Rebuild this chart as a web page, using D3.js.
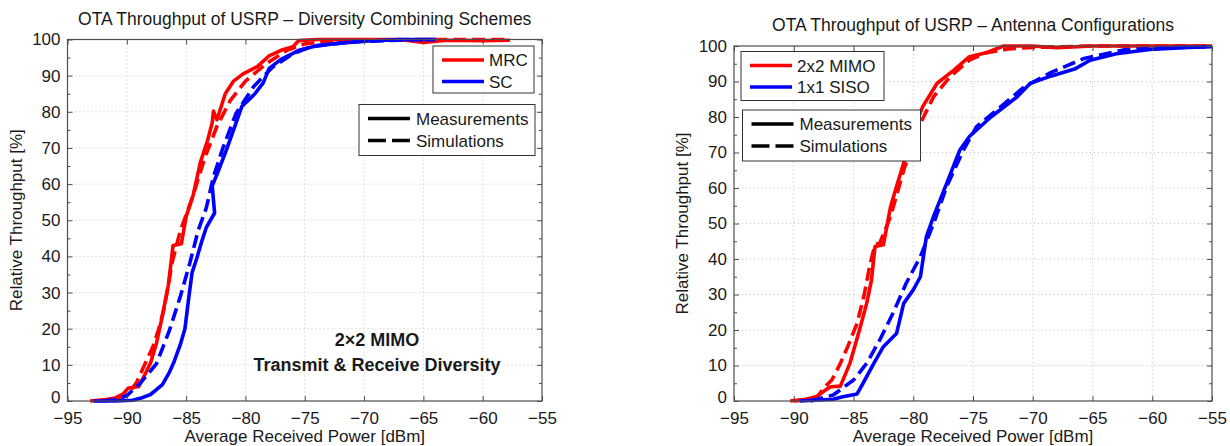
<!DOCTYPE html>
<html>
<head>
<meta charset="utf-8">
<script src="https://cdn.jsdelivr.net/npm/d3@7"></script>
<style>
  body { margin: 0; background: #fff; }
  svg text { font-family: "Liberation Sans", Arial, sans-serif; fill: #1a1a1a; }
</style>
</head>
<body>
<script>

// axis ticks shared by both plots
var xTicks = [-95, -90, -85, -80, -75, -70, -65, -60, -55]
var yTicks = [0, 10, 20, 30, 40, 50, 60, 70, 80, 90, 100]
var yMinorTicks = [5, 15, 25, 35, 45, 55, 65, 75, 85, 95]

// left plot: diversity combining schemes
var mrcMeas = [[-93.1,0],[-92,0.3],[-91,0.8],[-90.3,2],[-89.9,3.5],[-89,4],[-88.6,6.5],[-88,10.5],[-87.5,16],[-87.1,22],[-86.5,32],[-86.1,43],[-85.4,43.5],[-85,51],[-84.4,57],[-83.8,66],[-83.2,72],[-82.8,77],[-82.7,80.2],[-82.4,77.8],[-81.7,85],[-81,88.5],[-80.2,90.5],[-79,92.5],[-78,95.5],[-77,97],[-76,98],[-75.5,99.7],[-74,100],[-70,100],[-67,100],[-65,99.2],[-63,99.8],[-60,99.7],[-57.7,99.8]]
var mrcSim = [[-92.5,0],[-91,0.5],[-90,1.5],[-89.2,5],[-88.5,10],[-87.8,15],[-87.3,20],[-86.9,25],[-86.5,32],[-86.2,38],[-85.5,47],[-84.5,56],[-83.4,67.5],[-82.4,76],[-81.3,83],[-80,88.5],[-78.2,93.4],[-76.5,97],[-75,98.8],[-73,99.5],[-70,99.8],[-65,100],[-60,100],[-58,100]]
var scMeas = [[-92.8,0],[-91,0],[-89.5,0.2],[-88.8,0.8],[-88,1.8],[-87,4.5],[-86.4,8],[-86,11],[-85.5,15.5],[-85.1,20],[-84.8,28],[-84.5,35.5],[-84.1,39.5],[-83.7,44],[-83.3,48],[-82.6,52],[-82.8,59.5],[-82.3,63.5],[-81.6,69.5],[-81,75],[-80.3,81.5],[-79.2,85],[-78.5,88],[-78,92],[-77,94.5],[-75.5,97],[-74,98.3],[-72,99],[-70,99.5],[-67,100],[-64,100]]
var scSim = [[-92,0],[-90.9,0.4],[-90,1.5],[-88.9,4.8],[-87.5,10.3],[-86.4,19.6],[-85.5,28.8],[-84.7,38],[-84,47],[-83.3,53.4],[-82.7,62],[-81.9,70],[-80.8,79.5],[-79.3,87],[-77.7,92.4],[-76,96],[-74.5,98],[-72,99],[-70,99.5],[-67,99.8],[-64,100]]

// right plot: antenna configurations
var mimoMeas = [[-90.3,0],[-89,0.5],[-88.1,1.2],[-87.3,3.2],[-86.9,4],[-86.1,4.2],[-85.3,10.6],[-84.5,20],[-83.9,27.5],[-83.5,34],[-83.2,43.5],[-82.5,44],[-81.9,54.7],[-81.4,60.4],[-80.8,67],[-80,76],[-79.2,83],[-78,89.5],[-76.6,93.2],[-75.3,97],[-74,98],[-72.8,99.5],[-72.5,100],[-70,100],[-68,99.5],[-65,100],[-60,100],[-55,100]]
var mimoSim = [[-90,0],[-89,0.3],[-88,1.3],[-87.5,3.6],[-86.8,6],[-86.1,10.6],[-85.4,16],[-84.7,21.9],[-84.1,30],[-83.6,38.8],[-83.2,44],[-82.8,44.5],[-81.9,52],[-80.8,65],[-80.1,72],[-79.4,78.2],[-78.3,85.7],[-76.9,91.4],[-75.3,96],[-74,98],[-72,99.2],[-70,99.6],[-65,100],[-55,100]]
var sisoMeas = [[-89.5,0],[-86.7,0.5],[-85.9,1.2],[-84.7,2],[-84.2,5],[-83.3,10.6],[-82.5,15.3],[-81.4,19],[-80.8,27.5],[-80,31.3],[-79.4,35],[-78.9,46.3],[-78.3,52],[-77.2,61.3],[-76.1,70.7],[-75.3,74.5],[-73.5,80],[-71.3,85.7],[-70.2,89.5],[-68.5,91.5],[-66.5,93.5],[-65.2,96],[-63,97.8],[-60.2,99],[-57,99.6],[-55,99.8]]
var sisoSim = [[-88.6,0],[-86.7,1.7],[-85,5.9],[-83.9,10.6],[-82.8,17.2],[-81.7,24.7],[-80.6,33.1],[-79.4,40.7],[-78.3,50],[-77.2,60.4],[-75.8,70.7],[-74.7,77.3],[-73,82],[-70.7,88.5],[-68.5,92.5],[-65.7,96.5],[-62.4,98.9],[-58,99.6],[-55,99.8]]

var RED = "#ff0000"
var BLUE = "#0000ff"
var DASH = "13,6"

window.onload = drawAll

function drawAll()
{
  svg = d3.select("body").append("svg")
          .attr("width", 1230)
          .attr("height", 446)

  drawPanel({
    left: 67.5, right: 542, top: 39.5, bottom: 401,
    title: "OTA Throughput of USRP \u2013 Diversity Combining Schemes",
    titleY: 25,
    ylabelX: 22,
    series: [
      {data: mrcMeas, color: RED, dash: null},
      {data: mrcSim, color: RED, dash: DASH},
      {data: scMeas, color: BLUE, dash: null},
      {data: scSim, color: BLUE, dash: DASH}
    ],
    colorLegend: {x: 433, y: 46, w: 101, h: 47, names: ["MRC", "SC"]},
    styleLegend: {x: 359, y: 104.5, w: 176, h: 51},
    note: true
  })

  drawPanel({
    left: 734, right: 1212, top: 46, bottom: 401,
    title: "OTA Throughput of USRP \u2013 Antenna Configurations",
    titleY: 31,
    ylabelX: 688,
    series: [
      {data: mimoMeas, color: RED, dash: null},
      {data: mimoSim, color: RED, dash: DASH},
      {data: sisoMeas, color: BLUE, dash: null},
      {data: sisoSim, color: BLUE, dash: DASH}
    ],
    colorLegend: {x: 741, y: 51.5, w: 143, h: 49, names: ["2x2 MIMO", "1x1 SISO"]},
    styleLegend: {x: 742.5, y: 110, w: 178, h: 51},
    note: false
  })
}

// one matlab style plot
function drawPanel(p)
{
  var x = d3.scaleLinear().domain([-95, -55]).range([p.left, p.right])
  var y = d3.scaleLinear().domain([0, 100]).range([p.bottom, p.top])
  var g = svg.append("g")

  // dotted grid
  g.selectAll(".gx").data(xTicks.slice(1, -1)).enter().append("line")
   .attr("x1", d => x(d)).attr("x2", d => x(d))
   .attr("y1", p.top).attr("y2", p.bottom)
   .attr("stroke", "#c4c4c4").attr("stroke-dasharray", "1,3")
  g.selectAll(".gy").data(yTicks.slice(1, -1)).enter().append("line")
   .attr("x1", p.left).attr("x2", p.right)
   .attr("y1", d => y(d)).attr("y2", d => y(d))
   .attr("stroke", "#c4c4c4").attr("stroke-dasharray", "1,3")

  // curves
  var line = d3.line().x(d => x(d[0])).y(d => y(d[1]))
  p.series.forEach(function(s)
  {
    g.append("path")
     .attr("d", line(s.data))
     .attr("fill", "none")
     .attr("stroke", s.color)
     .attr("stroke-width", 3.6)
     .attr("stroke-linejoin", "round")
     .attr("stroke-dasharray", s.dash)
  })

  // axes with inward ticks on all four sides
  var axisColor = "#4d4d4d"
  var bottomAxis = g.append("g").attr("transform", "translate(0," + p.bottom + ")")
                    .call(d3.axisBottom(x).tickValues(xTicks).tickSizeInner(-5).tickSizeOuter(0).tickPadding(11)
                    .tickFormat(d => d3.format("d")(d).replace("-", "\u2212")))
  var topAxis = g.append("g").attr("transform", "translate(0," + p.top + ")")
                 .call(d3.axisTop(x).tickValues(xTicks).tickSizeInner(-5).tickSizeOuter(0).tickFormat(""))
  var leftAxis = g.append("g").attr("transform", "translate(" + p.left + ",0)")
                  .call(d3.axisLeft(y).tickValues(yTicks).tickSizeInner(-5).tickSizeOuter(0).tickPadding(7))
  var rightAxis = g.append("g").attr("transform", "translate(" + p.right + ",0)")
                   .call(d3.axisRight(y).tickValues(yTicks).tickSizeInner(-5).tickSizeOuter(0).tickFormat(""))
  var minorLeft = g.append("g").attr("transform", "translate(" + p.left + ",0)")
                   .call(d3.axisLeft(y).tickValues(yMinorTicks).tickSizeInner(-3).tickSizeOuter(0).tickFormat(""))
  var minorRight = g.append("g").attr("transform", "translate(" + p.right + ",0)")
                    .call(d3.axisRight(y).tickValues(yMinorTicks).tickSizeInner(-3).tickSizeOuter(0).tickFormat(""))

  ;[bottomAxis, topAxis, leftAxis, rightAxis, minorLeft, minorRight].forEach(function(a)
  {
    a.select(".domain").remove()
    a.selectAll("line").attr("stroke", axisColor)
    a.selectAll("text").attr("font-size", 17).attr("fill", "#1a1a1a")
      .style("font-family", "'Liberation Sans', Arial, sans-serif")
  })

  // the y label "0" sits a little higher, as in the original figure
  leftAxis.selectAll("text").filter(d => d == 0).attr("dy", "0.1em")

  // the box
  g.append("rect")
   .attr("x", p.left).attr("y", p.top)
   .attr("width", p.right - p.left).attr("height", p.bottom - p.top)
   .attr("fill", "none").attr("stroke", axisColor).attr("stroke-width", 1.2)

  // labels
  g.append("text")
   .attr("x", (p.left + p.right) / 2).attr("y", p.titleY)
   .attr("text-anchor", "middle").attr("font-size", 17.5)
   .text(p.title)
  g.append("text")
   .attr("x", (p.left + p.right) / 2).attr("y", 442)
   .attr("text-anchor", "middle").attr("font-size", 17)
   .text("Average Received Power [dBm]")
  g.append("text")
   .attr("transform", "translate(" + p.ylabelX + "," + ((p.top + p.bottom) / 2) + ") rotate(-90)")
   .attr("text-anchor", "middle").attr("font-size", 17)
   .text("Relative Throughput [%]")

  // legend with the two colours
  var cl = p.colorLegend
  var lg = g.append("g")
  lg.append("rect").attr("x", cl.x).attr("y", cl.y).attr("width", cl.w).attr("height", cl.h)
    .attr("fill", "#fff").attr("stroke", "#333").attr("stroke-width", 1)
  ;[RED, BLUE].forEach(function(c, i)
  {
    var ly = cl.y + 14 + i * 21.5
    lg.append("line").attr("x1", cl.x + 9).attr("x2", cl.x + 51).attr("y1", ly).attr("y2", ly)
      .attr("stroke", c).attr("stroke-width", 3.6)
    lg.append("text").attr("x", cl.x + 56).attr("y", ly + 6).attr("font-size", 17).text(cl.names[i])
  })

  // legend with the two line styles
  var sl = p.styleLegend
  var sg = g.append("g")
  sg.append("rect").attr("x", sl.x).attr("y", sl.y).attr("width", sl.w).attr("height", sl.h)
    .attr("fill", "#fff").attr("stroke", "#333").attr("stroke-width", 1)
  ;["Measurements", "Simulations"].forEach(function(name, i)
  {
    var ly = sl.y + 14 + i * 22
    sg.append("line").attr("x1", sl.x + 9).attr("x2", sl.x + 51).attr("y1", ly).attr("y2", ly)
      .attr("stroke", "#000").attr("stroke-width", 3.6)
      .attr("stroke-dasharray", i == 1 ? "18,6" : null)
    sg.append("text").attr("x", sl.x + 57).attr("y", ly + 6).attr("font-size", 17).text(name)
  })

  // text inside the left plot
  if (p.note)
  {
    g.append("text").attr("x", 377).attr("y", 346).attr("text-anchor", "middle")
     .attr("font-size", 18).attr("font-weight", "bold").text("2\u00d72 MIMO")
    g.append("text").attr("x", 377).attr("y", 371).attr("text-anchor", "middle")
     .attr("font-size", 18).attr("font-weight", "bold").text("Transmit & Receive Diversity")
  }
}
</script>
</body>
</html>
